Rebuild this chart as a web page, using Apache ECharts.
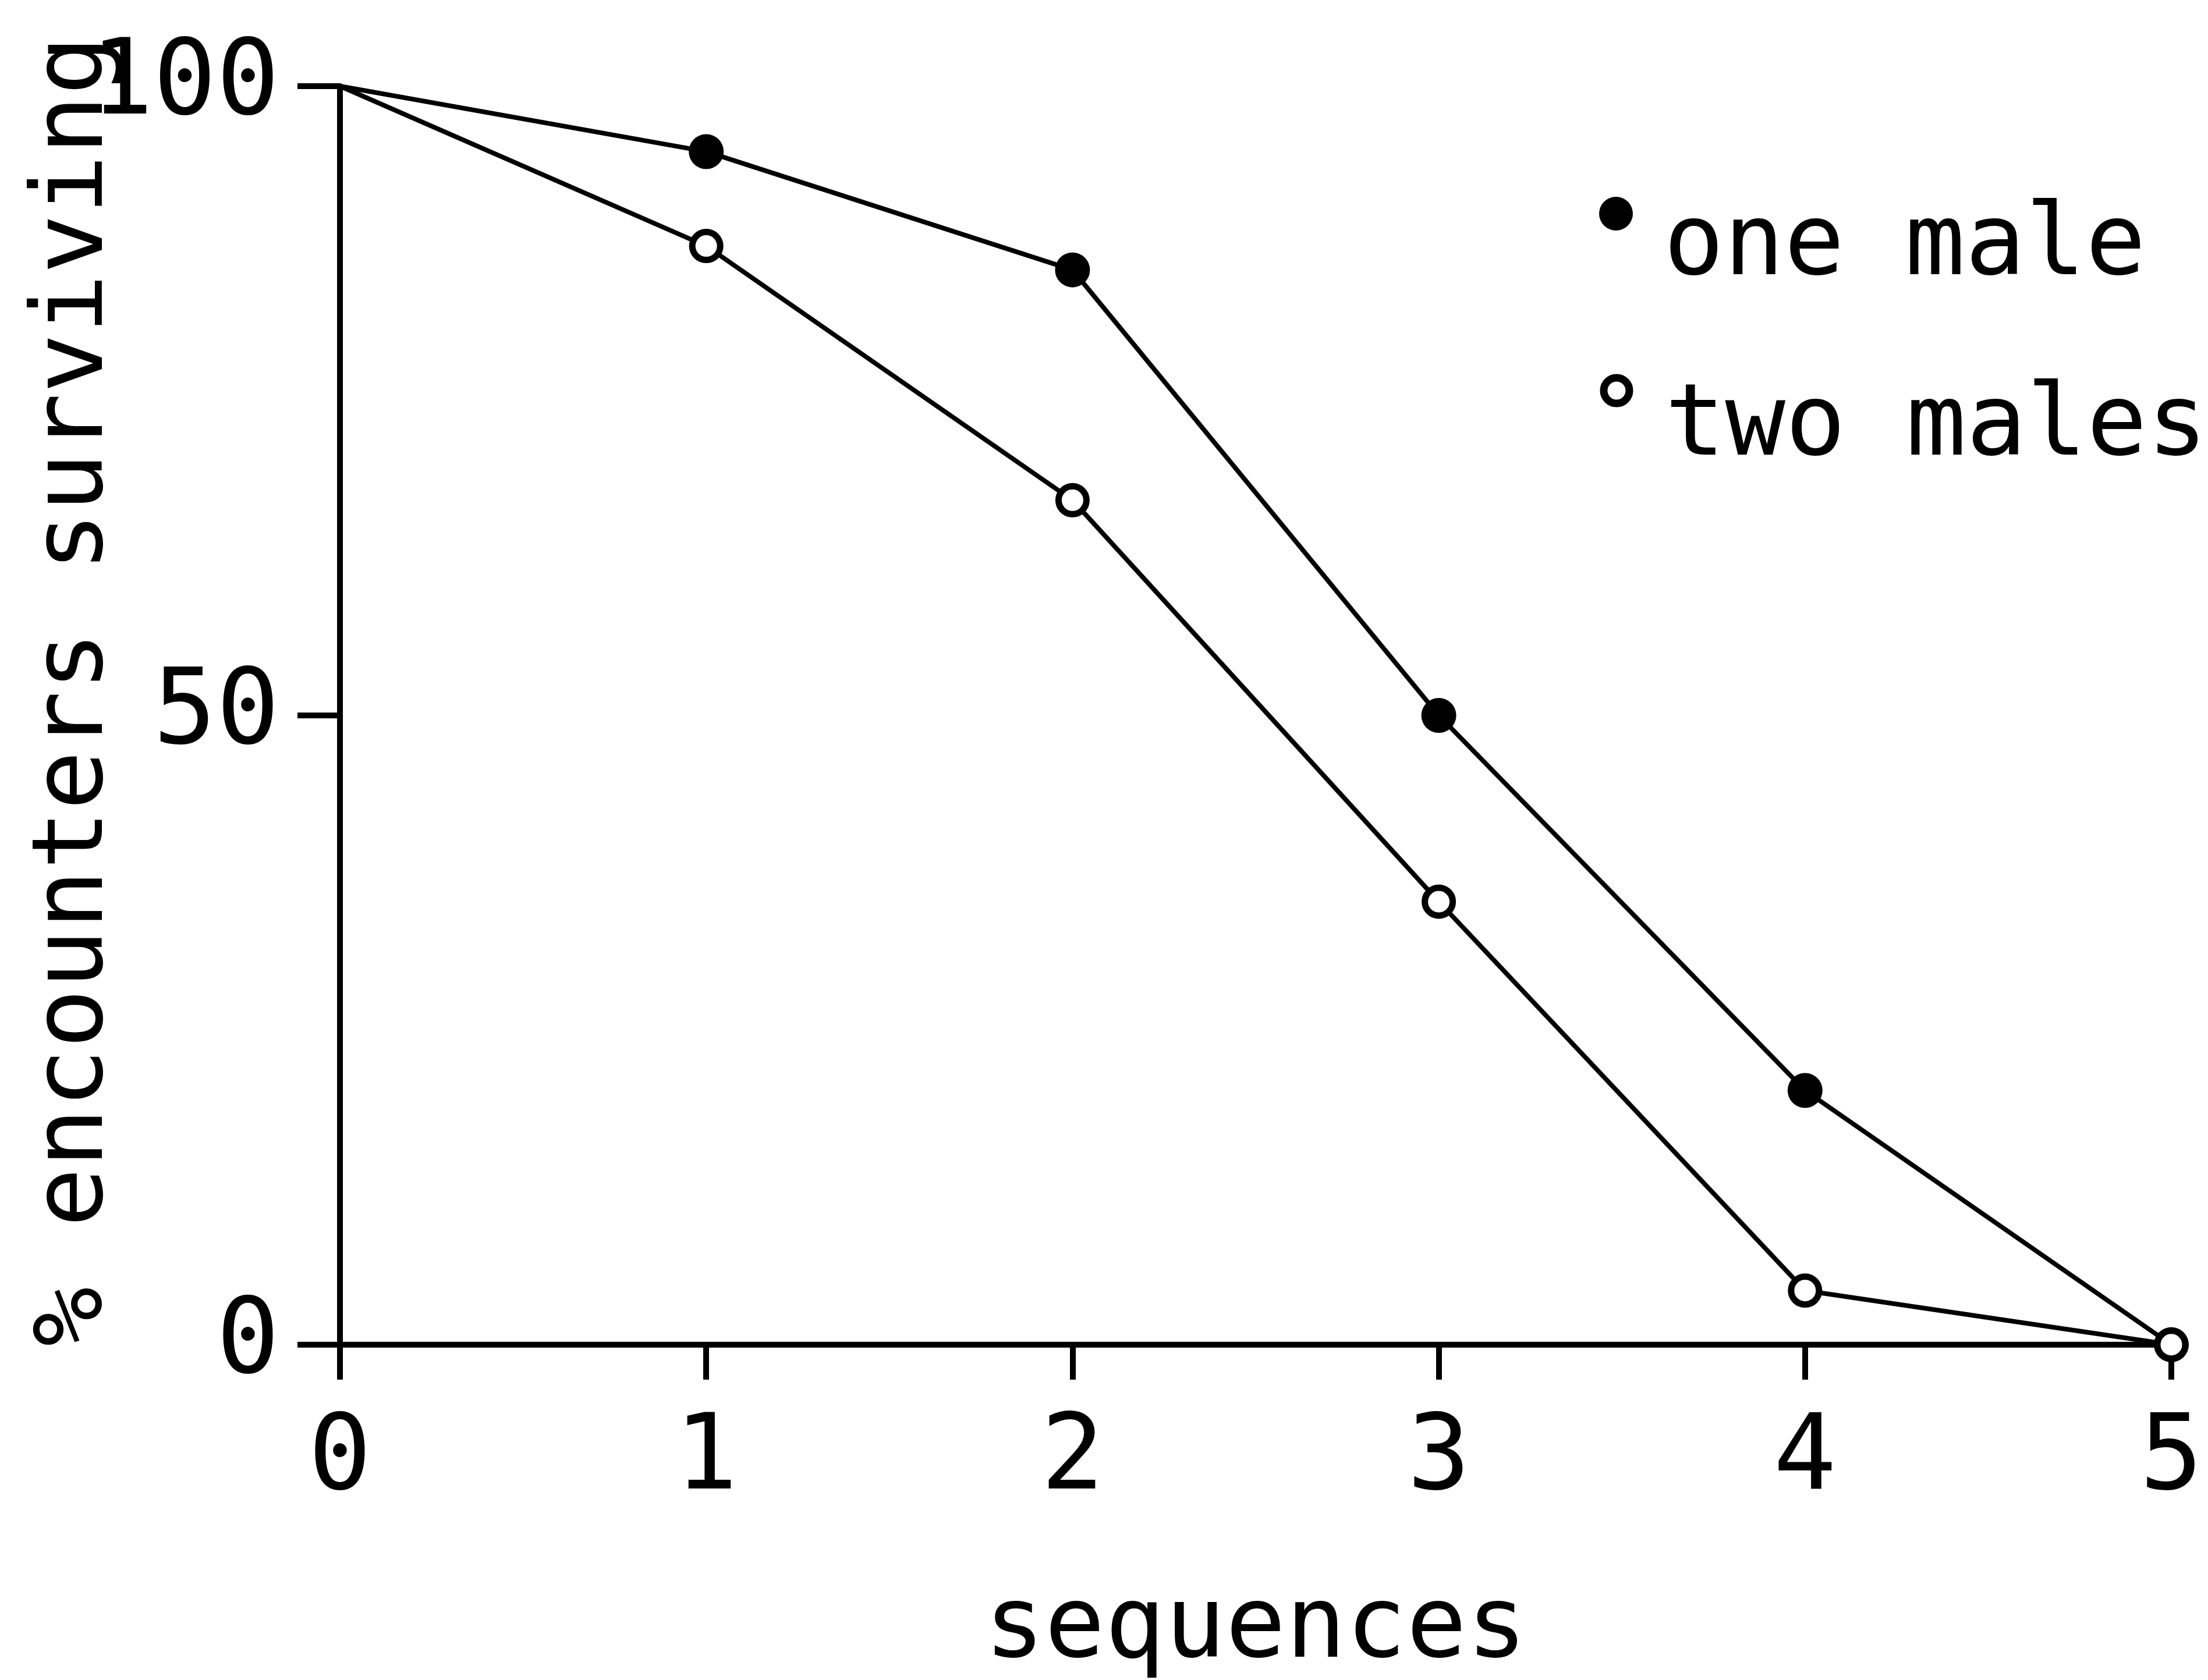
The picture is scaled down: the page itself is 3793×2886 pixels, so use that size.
<!DOCTYPE html>
<html>
<head>
<meta charset="utf-8">
<script src="https://cdn.jsdelivr.net/npm/echarts@6/dist/echarts.min.js"></script>
<style>
html,body{margin:0;padding:0;background:#fff;}
#chart{width:3793px;height:2886px;}
</style>
</head>
<body>
<div id="chart"></div>
<script>
const sequences = [0, 1, 2, 3, 4, 5];
const oneMale = [100, 94.8, 85.4, 50, 20.2, 0];
const twoMales = [100, 87.3, 67.1, 35.2, 4.3, 0];
const xTicks = ['0', '1', '2', '3', '4', '5'];
const yTickValues = [0, 50, 100];
const yTicks = ['0', '50', '100'];
const seriesNames = ['one male', 'two males'];

const FONT = 'DejaVu Sans Mono';
const chart = echarts.init(document.getElementById('chart'), null, {renderer: 'canvas'});

function pts(vals) {
  return sequences.map((s, i) => i === 0 ? {value: [s, vals[i]], symbol: 'none'} : {value: [s, vals[i]]});
}

const legendFont = {fill: '#000', fontFamily: FONT, fontSize: 172, verticalAlign: 'middle', align: 'left'};

chart.setOption({
  animation: false,
  backgroundColor: '#fff',
  grid: {left: 584, right: 63, top: 148, bottom: 576, containLabel: false, outerBoundsMode: 'none'},
  graphic: [
    {type: 'circle', shape: {cx: 2776, cy: 367, r: 29}, style: {fill: '#000'}},
    {type: 'text', x: 2858, y: 426, style: Object.assign({text: seriesNames[0]}, legendFont)},
    {type: 'circle', shape: {cx: 2777, cy: 671, r: 22}, style: {fill: '#fff', stroke: '#000', lineWidth: 13}},
    {type: 'text', x: 2860, y: 736, style: Object.assign({text: seriesNames[1]}, legendFont)}
  ],
  xAxis: {
    type: 'value', min: 0, max: 5, interval: 1,
    name: 'sequences', nameLocation: 'middle', nameGap: 405, nameMoveOverlap: false,
    nameTextStyle: {color: '#000', fontFamily: FONT, fontSize: 172},
    axisLine: {show: true, onZero: false, lineStyle: {color: '#000', width: 10}},
    axisTick: {show: true, inside: false, length: 60, lineStyle: {color: '#000', width: 10}},
    axisLabel: {color: '#000', fontFamily: FONT, fontSize: 180, margin: 110,
      formatter: v => xTicks[sequences.indexOf(v)]},
    splitLine: {show: false}
  },
  yAxis: {
    type: 'value', min: 0, max: 100, interval: 50,
    name: '% encounters surviving', nameLocation: 'middle', nameGap: 368, nameMoveOverlap: false,
    nameTextStyle: {color: '#000', fontFamily: FONT, fontSize: 170, padding: [0, 0, 0, 84]},
    axisLine: {show: true, onZero: false, lineStyle: {color: '#000', width: 10}},
    axisTick: {show: true, inside: false, length: 73, lineStyle: {color: '#000', width: 10}},
    axisLabel: {color: '#000', fontFamily: FONT, fontSize: 180, margin: 104,
      formatter: v => yTicks[yTickValues.indexOf(v)]},
    splitLine: {show: false}
  },
  series: [
    {name: seriesNames[0], type: 'line', data: pts(oneMale), symbol: 'circle', symbolSize: 60,
     lineStyle: {color: '#000', width: 8}, itemStyle: {color: '#000'}, z: 2},
    {name: seriesNames[1], type: 'line', data: pts(twoMales), symbol: 'circle', symbolSize: 48,
     lineStyle: {color: '#000', width: 8}, itemStyle: {color: '#fff', borderColor: '#000', borderWidth: 11}, z: 3}
  ]
});
</script>
</body>
</html>
